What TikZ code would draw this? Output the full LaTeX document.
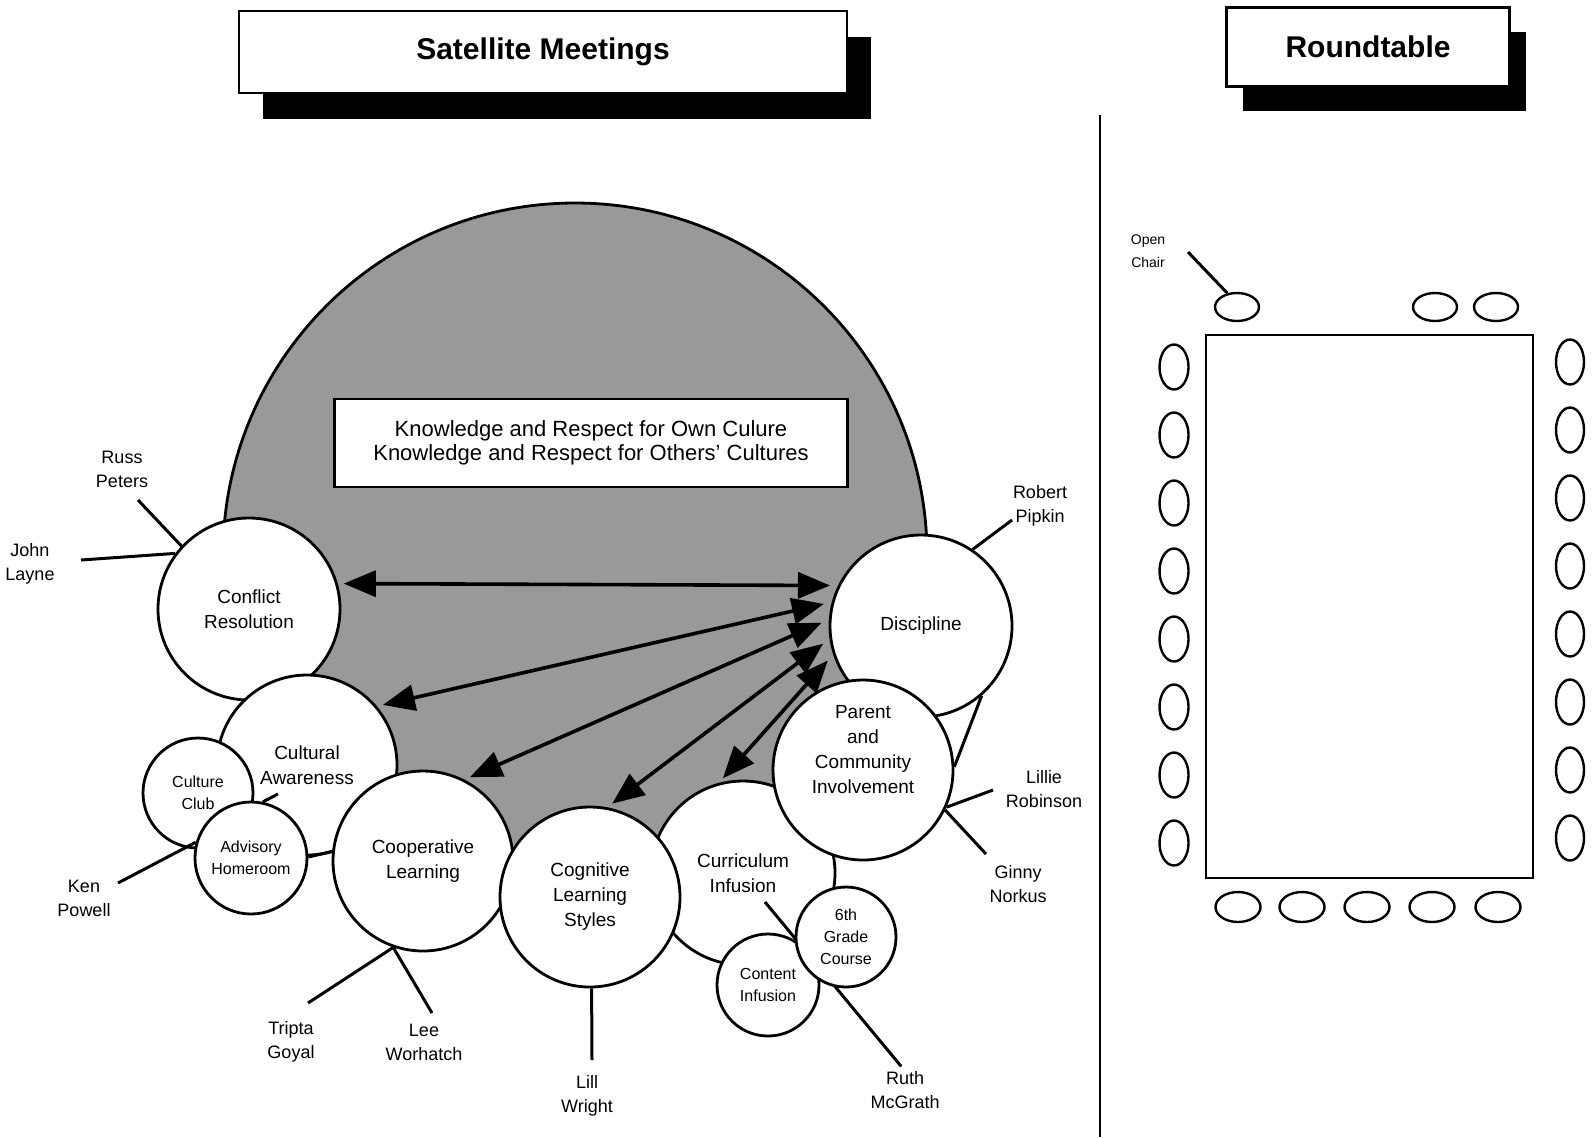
\documentclass[tikz,border=0pt]{standalone}
\usepackage{fontspec}
\setmainfont{Liberation Sans}
\usetikzlibrary{positioning,arrows.meta,shapes.geometric,shadows}

\begin{document}
\begin{tikzpicture}[x=0.5pt,y=-0.5pt,
  bubble/.style={circle,draw,fill=white,line width=1.4pt,inner sep=0pt,align=center,font=\fontsize{9.5}{12.5}\selectfont},
  minibubble/.style={bubble,font=\fontsize{8}{11}\selectfont},
  bubbletext/.style={align=center,inner sep=0pt,font=\fontsize{9.5}{12.5}\selectfont},
  person/.style={align=center,inner sep=0pt,font=\fontsize{9}{12}\selectfont},
  tie/.style={line width=1.5pt},
  twoway/.style={line width=1.8pt,arrows={Triangle[length=16pt,width=13pt]-Triangle[length=16pt,width=13pt]},shorten <=4pt,shorten >=3pt},
  header/.style={draw,fill=white,line width=1.2pt,font=\fontsize{15}{18}\selectfont\bfseries},
  seat/.style={ellipse,draw,line width=1.2pt,inner sep=0pt}]
\useasboundingbox (0,0) rectangle (1594,1137);

\filldraw[fill=black!40,line width=1.4pt] (575,555) circle[radius=176pt];
\node[draw,fill=white,line width=1.4pt,minimum width=256.5pt,minimum height=44pt,align=center,font=\fontsize{11}{12}\selectfont] (goal) at (591,443) {Knowledge and Respect for Own Culure\\Knowledge and Respect for Others' Cultures};

\node[header,minimum width=304pt,minimum height=41pt,drop shadow={shadow xshift=12pt,shadow yshift=-13pt,fill=black,opacity=1}] (satellite) at (543,52) {Satellite Meetings};
\node[header,minimum width=141.5pt,minimum height=39.5pt,drop shadow={shadow xshift=8pt,shadow yshift=-12pt,fill=black,opacity=1}] (roundtable) at (1368,47) {Roundtable};
\draw[line width=0.8pt] (1100,115) -- (1100,1137);

\node[bubble,minimum size=91pt] (conflict) at (249,609) {Conflict\\Resolution};
\node[bubble,minimum size=91pt] (discipline) at (921,626) {Discipline};
\node[bubble,minimum size=92pt] (curriculum) at (743,873) {Curriculum\\Infusion};
\node[person] (ruth) at (905,1090) {Ruth\\McGrath};
\coordinate (ruthtop) at (765,902);
\draw[tie,shorten >=3pt] (ruthtop) -- (ruth.north);
\node[bubble,minimum size=90pt] (awareness) at (307,765) {Cultural\\Awareness};
\node[minibubble,minimum size=55pt] (club) at (198,793) {Culture\\Club};
\node[minibubble,minimum size=56pt] (advisory) at (251,858) {Advisory\\Homeroom};
\node[bubble,minimum size=90pt] (cooperative) at (423,861) {Cooperative\\Learning};
\node[bubble,minimum size=90pt] (cognitive) at (590,897) {Cognitive\\Learning\\Styles};
\node[bubble,minimum size=90pt,label={[bubbletext,yshift=10pt]center:Parent\\and\\Community\\Involvement}] (parent) at (863,770) {};
\node[minibubble,minimum size=51pt] (content) at (768,985) {Content\\Infusion};
\node[minibubble,minimum size=50pt] (sixth) at (846,937) {6th\\Grade\\Course};

\draw[twoway] (discipline.154) -- (conflict.16);
\draw[twoway] (discipline.165) -- (awareness.40);
\draw[twoway] (discipline.176) -- (cooperative.63);
\draw[twoway] (discipline.-172) -- (cognitive.79);
\draw[twoway] (discipline.-162) -- (curriculum.105);

\draw[tie] (discipline.-49) -- (parent.2);
\draw[tie] (advisory.1) -- (cooperative.174);
\coordinate (tick) at (278,794);
\draw[tie] (advisory.78) -- (tick);

\node[person] (russ) at (122,469) {Russ\\Peters};
\node[person] (john) at (30,564) {John\\Layne};
\node[person] (robert) at (1040,506) {Robert\\Pipkin};
\node[person] (lillie) at (1044,789) {Lillie\\Robinson};
\node[person] (ginny) at (1018,884) {Ginny\\Norkus};
\node[person] (ken) at (84,898) {Ken\\Powell};
\node[person] (tripta) at (291,1042) {Tripta\\Goyal};
\node[person] (lee) at (424,1042) {Lee\\Worhatch};
\node[person] (lill) at (587,1096) {Lill\\Wright};

\coordinate (russend) at (138,500);
\coordinate (johnend) at (81,560);
\coordinate (robertend) at (1012,520);
\coordinate (lillieend) at (993,790);
\coordinate (ginnyend) at (986,854);
\coordinate (kenend) at (118,883);
\coordinate (triptaend) at (308,1003);
\coordinate (leeend) at (432,1013);
\coordinate (lillend) at (592,1060);
\draw[tie] (russend) -- (conflict.137);
\draw[tie] (johnend) -- (conflict.143);
\draw[tie] (robertend) -- (discipline.56);
\draw[tie] (lillieend) -- (parent.-24);
\draw[tie] (ginnyend) -- (parent.-26);
\draw[tie] (kenend) -- (advisory.164);
\draw[tie] (triptaend) -- (cooperative.-109);
\draw[tie] (leeend) -- (cooperative.-109);
\draw[tie] (lillend) -- (cognitive.-89);

\node[draw,line width=1.2pt,minimum width=163.5pt,minimum height=271.5pt] (table) at (1369.5,606.5) {};
\foreach \y [count=\i] in {367,435,503,571,639,707,775,843}
  \node[seat,minimum width=14.5pt,minimum height=22.5pt] (west\i) at (1174,\y) {};
\foreach \y [count=\i] in {362,430,498,566,634,702,770,838}
  \node[seat,minimum width=14pt,minimum height=22.5pt] (east\i) at (1570,\y) {};
\node[seat,minimum width=22pt,minimum height=14pt] (open) at (1237,307) {};
\node[seat,minimum width=22pt,minimum height=14pt] (north2) at (1435,307) {};
\node[seat,minimum width=22pt,minimum height=14pt] (north3) at (1496,307) {};
\foreach \x [count=\i] in {1238,1302,1367,1432,1498}
  \node[seat,minimum width=22.5pt,minimum height=15pt] (south\i) at (\x,907) {};
\node[person,font=\fontsize{7}{11.5}\selectfont] (openlabel) at (1148,251) {Open\\Chair};
\coordinate (openend) at (1188,252);
\draw[tie] (openend) -- (open.125);
\end{tikzpicture}
\end{document}
